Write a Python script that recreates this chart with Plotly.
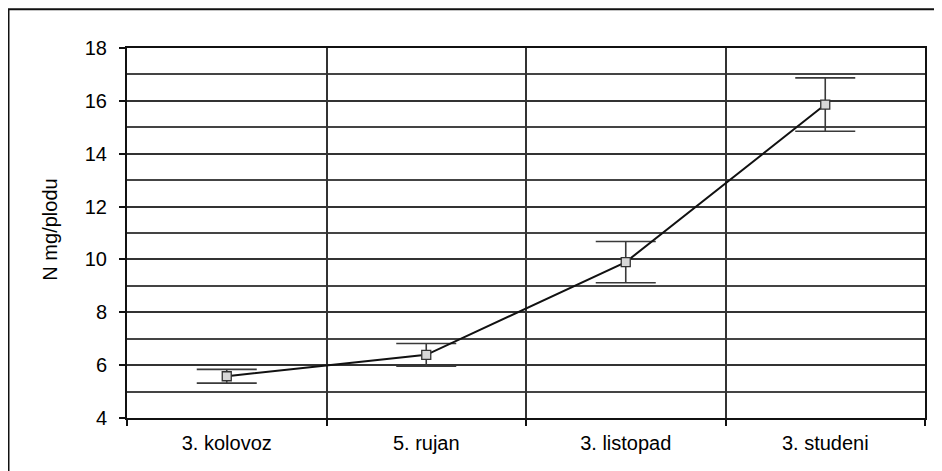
import plotly.graph_objects as go

categories = ["3. kolovoz", "5. rujan", "3. listopad", "3. studeni"]
n_values = [5.58, 6.39, 9.90, 15.86]
n_errors = [0.26, 0.43, 0.78, 1.01]
y_tick_values = [4, 6, 8, 10, 12, 14, 16, 18]

FONT = "Liberation Sans, Arial, Helvetica, sans-serif"

fig = go.Figure()
fig.add_trace(go.Scatter(
    x=categories,
    y=n_values,
    mode="lines+markers",
    line=dict(color="#111111", width=2),
    marker=dict(symbol="square", size=9, color="#d8d8d8",
                line=dict(color="#333333", width=1.3)),
    error_y=dict(type="data", array=n_errors, visible=True,
                 color="#3a3a3a", thickness=1.6, width=30),
    showlegend=False,
))

fig.update_layout(
    width=942, height=471,
    margin=dict(l=119, r=25, t=40, b=61),
    paper_bgcolor="white",
    plot_bgcolor="white",
    font=dict(family=FONT, size=20, color="#000000"),
    xaxis=dict(
        type="category",
        tickson="boundaries",
        showgrid=True, gridcolor="#333333", gridwidth=1.6,
        showline=True, linecolor="#111111", linewidth=2, mirror=True,
        ticks="outside", ticklen=6, tickcolor="#111111", tickwidth=1.5,
        tickfont=dict(family=FONT, size=20, color="#000000"),
        ticklabelstandoff=6,
        range=[-0.5, 3.5],
    ),
    yaxis=dict(
        range=[4, 18],
        tickvals=y_tick_values,
        showgrid=True, gridcolor="#333333", gridwidth=1.6,
        minor=dict(dtick=1, showgrid=True, gridcolor="#444444", gridwidth=1.5, ticks=""),
        showline=True, linecolor="#111111", linewidth=2, mirror=True,
        ticks="outside", ticklen=6, tickcolor="#111111", tickwidth=1.5,
        tickfont=dict(family=FONT, size=20, color="#000000"),
        ticklabelstandoff=8,
        zeroline=False,
    ),
    annotations=[dict(
        text="N mg/plodu", textangle=-90,
        xref="paper", yref="paper", x=-0.097, y=0.508,
        xanchor="center", yanchor="middle", showarrow=False,
        font=dict(family=FONT, size=20, color="#000000"),
    )],
    shapes=[dict(
        type="rect", xref="paper", yref="paper",
        x0=-0.1485, x1=1.05, y0=-0.2, y1=1.105,
        line=dict(color="#111111", width=2), fillcolor="rgba(0,0,0,0)",
        layer="below",
    )],
)

fig.write_html("out.html")
